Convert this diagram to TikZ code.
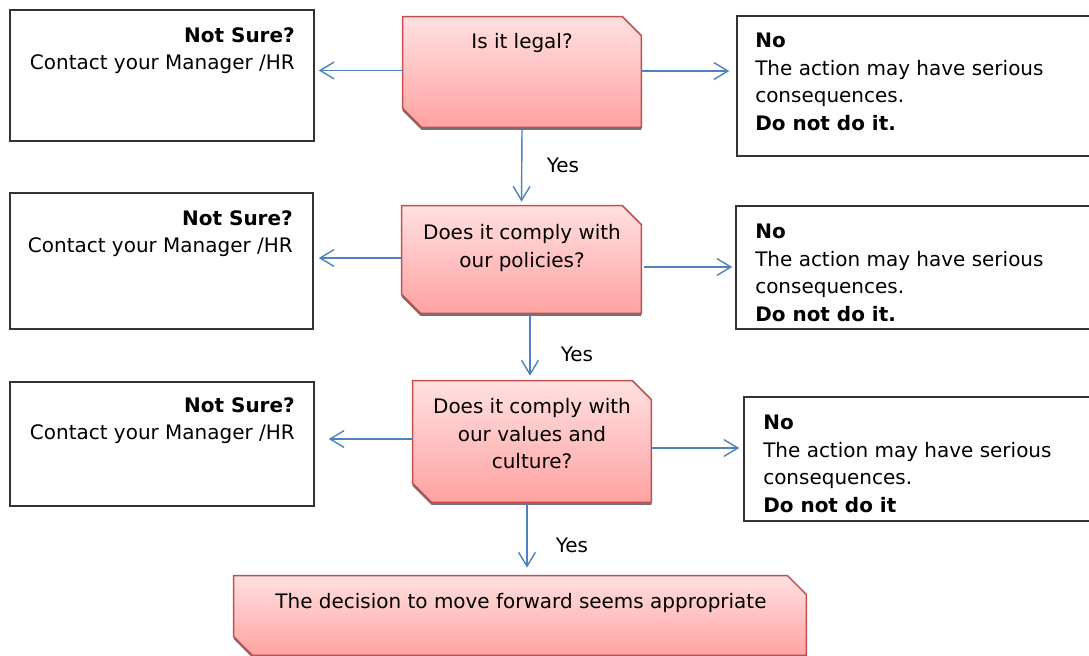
\documentclass[tikz,border=0pt]{standalone}
\usepackage{fontspec}
\setmainfont{DejaVu Sans}
\usetikzlibrary{arrows.meta,calc}

\definecolor{flowblue}{HTML}{4F81BD}
\definecolor{qborder}{HTML}{C0504D}
\definecolor{qtop}{HTML}{FFE0E0}
\definecolor{qbottom}{HTML}{FFA2A2}

\tikzset{
  txt/.style={font=\fontsize{14.2}{19.6}\selectfont, inner sep=0pt},
  note/.style={draw=black!80, line width=1pt, rectangle, inner sep=0pt},
  question/.style={rectangle, inner sep=0pt},
  qfill/.style={draw=qborder, line width=1.1pt, top color=qtop, bottom color=qbottom},
  qshadow/.style={fill=black!55},
  flow/.style={draw=flowblue, line width=1pt,
    -{Straight Barb[length=0.35cm, width=0.42cm]}},
}

% snipped box drawn round a question node
\newcommand{\qshape}[1]{%
  \path[qshadow] ([yshift=-1.8pt]#1.north west) -- ([xshift=-0.47cm,yshift=-1.8pt]#1.north east)
    -- ([yshift=-0.47cm-1.8pt]#1.north east) -- ([yshift=-1.8pt]#1.south east)
    -- ([xshift=0.47cm,yshift=-1.8pt]#1.south west) -- ([yshift=0.47cm-1.8pt]#1.south west) -- cycle;
  \path[qfill] (#1.north west) -- ([xshift=-0.47cm]#1.north east)
    -- ([yshift=-0.47cm]#1.north east) -- (#1.south east)
    -- ([xshift=0.47cm]#1.south west) -- ([yshift=0.47cm]#1.south west) -- cycle;
}

\begin{document}
\begin{tikzpicture}[x=0.025cm, y=-0.025cm]
  \path[use as bounding box, clip] (0,0) rectangle (1089,656);

  % left boxes
  \node[note, minimum width=7.6cm, minimum height=3.275cm] (l1) at (162,75.5) {};
  \node[note, minimum width=7.575cm, minimum height=3.4cm] (l2) at (161.5,261) {};
  \node[note, minimum width=7.6cm, minimum height=3.1cm] (l3) at (162,444) {};
  \node[txt, anchor=north east, align=right] (l1t) at (295,27) {\textbf{Not Sure?}\\Contact your Manager /HR};
  \node[txt, anchor=north east, align=right] (l2t) at (293,210) {\textbf{Not Sure?}\\Contact your Manager /HR};
  \node[txt, anchor=north east, align=right] (l3t) at (295,397) {\textbf{Not Sure?}\\Contact your Manager /HR};

  % right boxes
  \node[note, minimum width=9.075cm, minimum height=3.5cm] (r1) at (918.5,86) {};
  \node[note, minimum width=9.1cm, minimum height=3.075cm] (r2) at (918,267.5) {};
  \node[note, minimum width=8.9cm, minimum height=3.1cm] (r3) at (922,459) {};
  \node[txt, anchor=north west, align=left] (r1t) at (755,33) {\textbf{No}\\The action may have serious\\consequences.\\\textbf{Do not do it.}};
  \node[txt, anchor=north west, align=left] (r2t) at (755,224) {\textbf{No}\\The action may have serious\\consequences.\\\textbf{Do not do it.}};
  \node[txt, anchor=north west, align=left] (r3t) at (763,415) {\textbf{No}\\The action may have serious\\consequences.\\\textbf{Do not do it}};

  % questions
  \node[question, minimum width=5.95cm, minimum height=2.75cm] (d1) at (522,72) {};
  \node[question, minimum width=5.975cm, minimum height=2.675cm] (d2) at (521.5,259.5) {};
  \node[question, minimum width=5.95cm, minimum height=3.025cm] (d3) at (532,441.5) {};
  \node[question, minimum width=14.3cm, minimum height=1.975cm] (d4) at (520,615.5) {};
  \qshape{d1} \qshape{d2} \qshape{d3} \qshape{d4}
  \node[txt, anchor=north] (d1t) at (522,33) {Is it legal?};
  \node[txt, anchor=north, align=center] (d2t) at (522,224) {Does it comply with\\our policies?};
  \node[txt, anchor=north, align=center] (d3t) at (532,398) {Does it comply with\\our values and\\culture?};
  \node[txt, anchor=north] (d4t) at (521,593) {The decision to move forward seems appropriate};

  % arrows
  \draw[flow, shorten >=0.1cm] ($(d1.west)+(0,-1.5)$) coordinate (d1w) -- (d1w -| l1.east);
  \draw[flow, shorten >=0.175cm] ($(d1.east)+(0,-1)$) coordinate (d1o) -- (d1o -| r1.west);
  \draw[flow, shorten >=0.125cm] ($(d2.west)+(0,-1.5)$) coordinate (d2w) -- (d2w -| l2.east);
  \draw[flow, shorten >=0.075cm] ($(d2.east)+(3,7.5)$) coordinate (d2o) -- (d2o -| r2.west);
  \draw[flow, shorten >=0.35cm] ($(d3.west)+(0,-2.5)$) coordinate (d3w) -- (d3w -| l3.east);
  \draw[flow, shorten >=0.1cm] ($(d3.east)+(0,6.5)$) coordinate (d3o) -- (d3o -| r3.west);

  \draw[flow, shorten >=0.1cm] ($(d1.south)+(0,2)$) -- (d2.north);
  \draw[flow, shorten >=0.125cm] ($(d2.south)+(8.5,2)$) coordinate (d2s) -- (d2s |- d3.north);
  \draw[flow, shorten >=0.2cm] ($(d3.south)+(-5,2)$) coordinate (d3s) -- (d3s |- d4.north);

  \node[txt] (yes1) at (563,165) {Yes};
  \node[txt] (yes2) at (577,354) {Yes};
  \node[txt] (yes3) at (572,545) {Yes};
\end{tikzpicture}
\end{document}
